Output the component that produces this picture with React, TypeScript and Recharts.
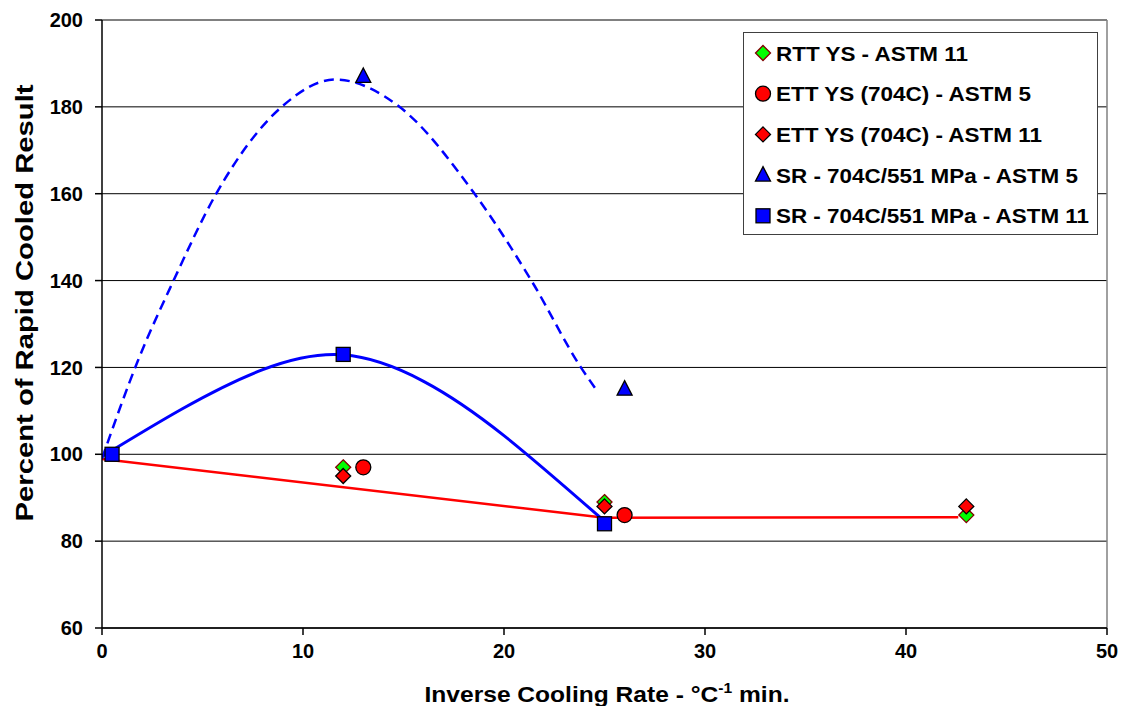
import React from 'react';
import { ComposedChart, Line, Scatter, XAxis, YAxis, CartesianGrid, ReferenceLine, Label } from 'recharts';

const xTicks = [0, 10, 20, 30, 40, 50];
const yTicks = [60, 80, 100, 120, 140, 160, 180, 200];

// measured points
const rttYs11 = [{ x: 12, y: 97 }, { x: 25, y: 89 }, { x: 43, y: 86 }];
const ettYs5 = [{ x: 13, y: 97 }, { x: 26, y: 86 }];
const ettYs11 = [{ x: 12, y: 95 }, { x: 25, y: 88 }, { x: 43, y: 88 }];
const sr5 = [{ x: 13, y: 187 }, { x: 26, y: 115 }];
const sr11 = [{ x: 0.5, y: 100 }, { x: 12, y: 123 }, { x: 25, y: 84 }];

// trend lines
const sr5Trend = [
  { x: 0, y: 99 }, { x: 1.8, y: 121.7 }, { x: 3.55, y: 139.9 }, { x: 5.67, y: 159.9 },
  { x: 8.94, y: 180 }, { x: 11.6, y: 186.3 }, { x: 14.8, y: 180 }, { x: 18.5, y: 160.2 },
  { x: 21.4, y: 139.7 }, { x: 23.8, y: 120.2 }, { x: 24.6, y: 114.8 },
];
const sr11Trend = [
  { x: 0, y: 99.5 }, { x: 4, y: 110.5 }, { x: 8, y: 119.5 }, { x: 12, y: 122.9 },
  { x: 16, y: 116.8 }, { x: 20, y: 104.3 }, { x: 24.8, y: 85.4 },
];
const ettTrend = [{ x: 0, y: 98.9 }, { x: 25, y: 85.4 }, { x: 42.6, y: 85.5 }];

const legendNames = [
  'RTT YS - ASTM 11',
  'ETT YS (704C) - ASTM 5',
  'ETT YS (704C) - ASTM 11',
  'SR - 704C/551 MPa - ASTM 5',
  'SR - 704C/551 MPa - ASTM 11',
];
const legendWidths = [192, 255, 266, 302, 313];

const FONT = 'Liberation Sans, Arial, sans-serif';

const Diamond = ({ cx, cy, fill, stroke }: any) => (
  <polygon
    points={`${cx},${cy - 7.5} ${cx + 7.5},${cy} ${cx},${cy + 7.5} ${cx - 7.5},${cy}`}
    fill={fill}
    stroke={stroke}
    strokeWidth={1.3}
  />
);
const Dot = ({ cx, cy }: any) => <circle cx={cx} cy={cy} r={7.5} fill="#FF0000" stroke="#000" strokeWidth={1.3} />;
const Tri = ({ cx, cy }: any) => (
  <polygon points={`${cx},${cy - 8.5} ${cx + 7.5},${cy + 6} ${cx - 7.5},${cy + 6}`} fill="#0000FF" stroke="#000" strokeWidth={1.3} />
);
const Sq = ({ cx, cy }: any) => (
  <rect x={cx - 7} y={cy - 7} width={14} height={14} fill="#0000FF" stroke="#000" strokeWidth={1.3} />
);

const legendMarks = [
  (x: number, y: number) => <Diamond cx={x} cy={y} fill="#00FF00" stroke="#800000" />,
  (x: number, y: number) => <Dot cx={x} cy={y} />,
  (x: number, y: number) => <Diamond cx={x} cy={y} fill="#FF0000" stroke="#000" />,
  (x: number, y: number) => <Tri cx={x} cy={y} />,
  (x: number, y: number) => <Sq cx={x} cy={y} />,
];

const YTitle = () => (
  <text
    x={33}
    y={303}
    transform="rotate(-90 33 303)"
    textAnchor="middle"
    fontSize={23}
    fontWeight="bold"
    fontFamily={FONT}
    fill="#000"
    textLength={437}
    lengthAdjust="spacingAndGlyphs"
  >
    Percent of Rapid Cooled Result
  </text>
);

const XTitle = () => (
  <text
    x={607}
    y={702}
    textAnchor="middle"
    fontSize={22}
    fontWeight="bold"
    fontFamily={FONT}
    fill="#000"
    textLength={365}
    lengthAdjust="spacingAndGlyphs"
  >
    Inverse Cooling Rate - °C<tspan dy={-9} fontSize={14}>-1</tspan>
    <tspan dy={9}> min.</tspan>
  </text>
);

const tickStyle = { fontSize: 20, fontWeight: 'bold', fill: '#000', fontFamily: FONT };

export default function App() {
  return (
    <div style={{ position: 'absolute', left: 0, top: 0, width: 1121, height: 706, background: '#fff' }}>
      <ComposedChart width={1121} height={706} margin={{ top: 20, right: 14, left: 0, bottom: 0 }}>
        <CartesianGrid vertical={false} stroke="#000" strokeWidth={1} />
        <XAxis
          type="number"
          dataKey="x"
          domain={[0, 50]}
          ticks={xTicks}
          allowDataOverflow
          height={78}
          tickSize={7}
          tickMargin={9}
          tick={tickStyle}
          stroke="#000"
          strokeWidth={1.5}
        >
          <Label content={XTitle} />
        </XAxis>
        <YAxis
          type="number"
          dataKey="y"
          domain={[60, 200]}
          ticks={yTicks}
          allowDataOverflow
          width={102}
          tickSize={7}
          tickMargin={12}
          tick={tickStyle}
          stroke="#000"
          strokeWidth={1.5}
        >
          <Label content={YTitle} />
        </YAxis>
        <ReferenceLine y={200} stroke="#808080" strokeWidth={1.5} />
        <ReferenceLine x={50} stroke="#808080" strokeWidth={1.5} />

        <Line data={ettTrend} dataKey="y" type="linear" stroke="#FF0000" strokeWidth={2.5} dot={false} isAnimationActive={false} />
        <Line data={sr5Trend} dataKey="y" type="monotone" stroke="#0000FF" strokeWidth={2.5} strokeDasharray="10 6" dot={false} isAnimationActive={false} />
        <Line data={sr11Trend} dataKey="y" type="natural" stroke="#0000FF" strokeWidth={3} dot={false} isAnimationActive={false} />

        <Scatter data={rttYs11} dataKey="y" isAnimationActive={false} shape={(p: any) => <Diamond cx={p.cx} cy={p.cy} fill="#00FF00" stroke="#800000" />} />
        <Scatter data={ettYs5} dataKey="y" isAnimationActive={false} shape={(p: any) => <Dot cx={p.cx} cy={p.cy} />} />
        <Scatter data={ettYs11} dataKey="y" isAnimationActive={false} shape={(p: any) => <Diamond cx={p.cx} cy={p.cy} fill="#FF0000" stroke="#000" />} />
        <Scatter data={sr5} dataKey="y" isAnimationActive={false} shape={(p: any) => <Tri cx={p.cx} cy={p.cy} />} />
        <Scatter data={sr11} dataKey="y" isAnimationActive={false} shape={(p: any) => <Sq cx={p.cx} cy={p.cy} />} />
      </ComposedChart>

      <div
        style={{
          position: 'absolute',
          left: 743,
          top: 32,
          width: 355,
          height: 203,
          boxSizing: 'border-box',
          border: '1.5px solid #404040',
          background: '#fff',
        }}
      >
        <svg width={355} height={203} style={{ position: 'absolute', left: -1, top: -1 }}>
          {legendNames.map((name, i) => {
            const y = 21 + i * 40.7;
            return (
              <g key={name}>
                {legendMarks[i](20, y)}
                <text
                  x={33}
                  y={y + 7.5}
                  fontSize={21}
                  fontWeight="bold"
                  fontFamily={FONT}
                  fill="#000"
                  textLength={legendWidths[i]}
                  lengthAdjust="spacingAndGlyphs"
                >
                  {name}
                </text>
              </g>
            );
          })}
        </svg>
      </div>
    </div>
  );
}
